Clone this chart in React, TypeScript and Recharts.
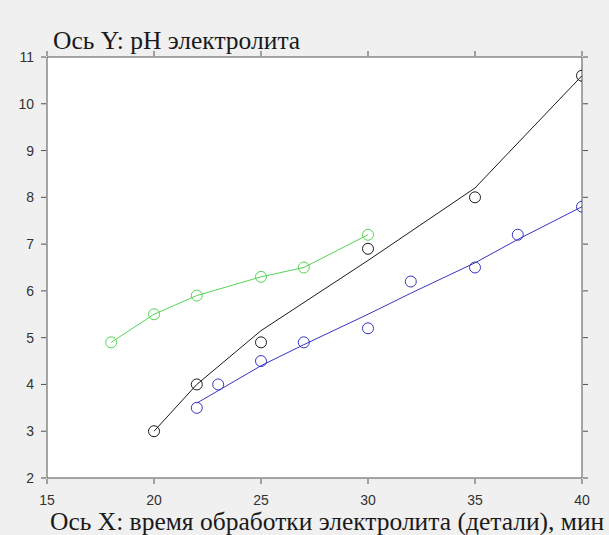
import { CartesianGrid, Scatter, ScatterChart, XAxis, YAxis } from "recharts";

// x tick values and y tick values
const X_TICKS = [15, 20, 25, 30, 35, 40];
const Y_TICKS = [2, 3, 4, 5, 6, 7, 8, 9, 10, 11];

// green series (markers joined by a line)
const greenX = [18, 20, 22, 25, 27, 30];
const greenY = [4.9, 5.5, 5.9, 6.3, 6.5, 7.2];

// black measured points and fit line
const blackPtX = [20, 22, 25, 30, 35, 40];
const blackPtY = [3, 4, 4.9, 6.9, 8, 10.6];
const blackFitX = [20, 22, 25, 30, 35, 40];
const blackFitY = [3, 4, 5.15, 6.65, 8.2, 10.6];

// blue measured points and fit line
const bluePtX = [22, 23, 25, 27, 30, 32, 35, 37, 40];
const bluePtY = [3.5, 4, 4.5, 4.9, 5.2, 6.2, 6.5, 7.2, 7.8];
const blueFitX = [22, 25, 27, 30, 32, 35, 37, 40];
const blueFitY = [3.6, 4.4, 4.85, 5.5, 5.95, 6.6, 7.1, 7.8];

const zip = (xs: number[], ys: number[]) => xs.map((x, i) => ({ x, y: ys[i] }));

const AXIS = "#505050";
const TICK_FONT = "'Liberation Sans', Arial, sans-serif";
const GREEN = "#55d455";
const BLUE = "#3535c5";
const BLACK = "#1a1a1a";

const ring = (color: string) => (props: any) => (
  <circle cx={props.cx} cy={props.cy} r={5.5} fill="none" stroke={color} strokeWidth={1} />
);
const noMarker = () => <g />;

const BottomTick = (props: any) => {
  const { x, y, payload } = props;
  return (
    <g>
      <line x1={x} x2={x} y1={y} y2={y - 5} stroke={AXIS} />
      <text x={x} y={y + 21} textAnchor="middle" fontSize={14} fontFamily={TICK_FONT} fill="#333">
        {payload.value}
      </text>
    </g>
  );
};

const TopTick = (props: any) => {
  const { x, y } = props;
  return <line x1={x} x2={x} y1={y} y2={y + 5} stroke={AXIS} />;
};

const LeftTick = (props: any) => {
  const { x, y, payload } = props;
  return (
    <g>
      <line x1={x} x2={x + 5} y1={y} y2={y} stroke={AXIS} />
      <text x={x - 7} y={y + 5} textAnchor="end" fontSize={14} fontFamily={TICK_FONT} fill="#333">
        {payload.value}
      </text>
    </g>
  );
};

const RightTick = (props: any) => {
  const { x, y } = props;
  return <line x1={x} x2={x - 5} y1={y} y2={y} stroke={AXIS} />;
};

const serif = "'Liberation Serif', 'Times New Roman', serif";

export default function App() {
  return (
    <div
      style={{
        position: "absolute",
        left: 0,
        top: 0,
        width: 609,
        height: 535,
        background: "#f0f0f0",
        overflow: "hidden"
      }}
    >
      <div style={{ position: "absolute", left: 0, top: 0 }}>
        <ScatterChart
          width={609}
          height={535}
          margin={{ top: 56, right: 26, bottom: 27, left: 7 }}
        >
          <CartesianGrid fill="#ffffff" horizontal={false} vertical={false} />
          <XAxis
            dataKey="x"
            type="number"
            domain={[15, 40]}
            ticks={X_TICKS}
            allowDataOverflow
            height={30}
            tickLine={false}
            tickMargin={0}
            tick={<BottomTick />}
            axisLine={{ stroke: AXIS }}
          />
          <XAxis
            xAxisId="top"
            orientation="top"
            dataKey="x"
            type="number"
            domain={[15, 40]}
            ticks={X_TICKS}
            allowDataOverflow
            height={1}
            tickLine={false}
            tickMargin={0}
            tick={<TopTick />}
            axisLine={{ stroke: AXIS }}
          />
          <YAxis
            dataKey="y"
            type="number"
            domain={[2, 11]}
            ticks={Y_TICKS}
            allowDataOverflow
            width={40}
            tickLine={false}
            tickMargin={0}
            tick={<LeftTick />}
            axisLine={{ stroke: AXIS }}
          />
          <YAxis
            yAxisId="right"
            orientation="right"
            dataKey="y"
            type="number"
            domain={[2, 11]}
            ticks={Y_TICKS}
            allowDataOverflow
            width={1}
            tickLine={false}
            tickMargin={0}
            tick={<RightTick />}
            axisLine={{ stroke: AXIS }}
          />

          {/* invisible series so the top/right box axes have something attached */}
          <Scatter
            xAxisId="top"
            yAxisId="right"
            data={zip(greenX, greenY)}
            shape={noMarker}
            isAnimationActive={false}
          />
          <Scatter
            data={zip(blackFitX, blackFitY)}
            line={{ stroke: BLACK, strokeWidth: 1 }}
            shape={noMarker}
            isAnimationActive={false}
          />
          <Scatter
            data={zip(blueFitX, blueFitY)}
            line={{ stroke: BLUE, strokeWidth: 1 }}
            shape={noMarker}
            isAnimationActive={false}
          />
          <Scatter
            data={zip(greenX, greenY)}
            line={{ stroke: GREEN, strokeWidth: 1 }}
            shape={ring(GREEN)}
            isAnimationActive={false}
          />
          <Scatter data={zip(blackPtX, blackPtY)} shape={ring(BLACK)} isAnimationActive={false} />
          <Scatter data={zip(bluePtX, bluePtY)} shape={ring(BLUE)} isAnimationActive={false} />
        </ScatterChart>
      </div>
      <div
        style={{
          position: "absolute",
          left: 53,
          top: 28,
          fontFamily: serif,
          fontSize: 25.5,
          lineHeight: "25px",
          color: "#1a1a1a",
          whiteSpace: "nowrap"
        }}
      >
        Ось Y: pH электролита
      </div>
      <div
        style={{
          position: "absolute",
          left: 50,
          top: 513,
          fontFamily: serif,
          fontSize: 25.5,
          lineHeight: "18px",
          color: "#1a1a1a",
          whiteSpace: "nowrap"
        }}
      >
        Ось X: время обработки электролита (детали), мин
      </div>
    </div>
  );
}
